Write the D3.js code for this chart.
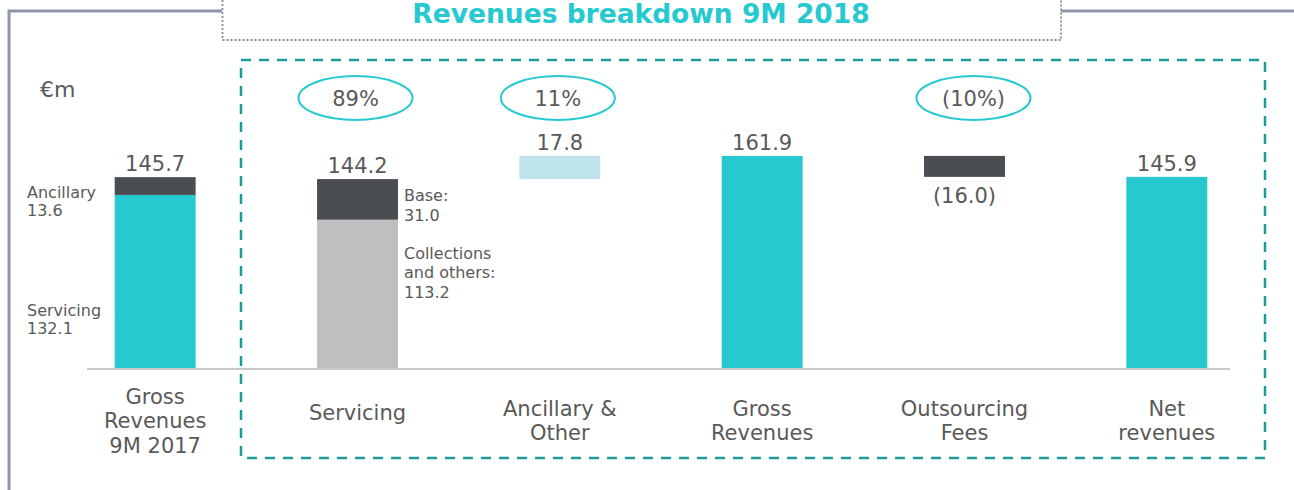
<!DOCTYPE html>
<html>
<head>
<meta charset="utf-8">
<script src="https://cdn.jsdelivr.net/npm/d3@7"></script>
<style>
  html, body { margin: 0; padding: 0; background: #ffffff; }
  svg { display: block; }
  text { font-family: "DejaVu Sans", Verdana, sans-serif; fill: #595959; }
</style>
</head>
<body>
<svg id="chart" width="1294" height="490"></svg>
<script>
// ---------- data ----------
const categories = [
  ["Gross", "Revenues", "9M 2017"],
  ["Servicing"],
  ["Ancillary &", "Other"],
  ["Gross", "Revenues"],
  ["Outsourcing", "Fees"],
  ["Net", "revenues"]
];
const categoryKeys = ["gross2017", "servicing", "ancillary", "gross", "outsourcing", "net"];
const totalLabels = ["145.7", "144.2", "17.8", "161.9", "(16.0)", "145.9"];

// stacked components
const gross2017Servicing = 132.1;
const gross2017Ancillary = 13.6;
const servicingCollections = 113.2;
const servicingBase = 31.0;
// waterfall steps
const ancillaryValue = 17.8;
const grossValue = 161.9;
const outsourcingValue = -16.0;
const netValue = 145.9;

const shareKeys = ["servicing", "ancillary", "outsourcing"];
const shareLabels = ["89%", "11%", "(10%)"];

const title = "Revenues breakdown 9M 2018";
const unitLabel = "€m";

// ---------- layout ----------
const svg = d3.select("#chart");
const W = 1294, H = 490;
const baseY = 368;

const x = d3.scaleBand().domain(categoryKeys).range([54, 1268]).paddingInner(0.6).paddingOuter(0.3);
const y = d3.scaleLinear().domain([0, 170]).range([baseY, baseY - 170 * 1.31]);

const C = {
  cyan: "#26c9d0",
  dark: "#4a4d52",
  grey: "#bfbfbf",
  light: "#bfe3ea",
  frame: "#8c96a8",
  dash: "#1e9a9b",
  axis: "#c8c8c8",
  text: "#595959"
};

// frame lines
svg.append("path")
  .attr("d", `M9,${H} V11 H222 M1061,11 H${W}`)
  .attr("fill", "none").attr("stroke", C.frame).attr("stroke-width", 3);

// title box
svg.append("rect")
  .attr("x", 222.5).attr("y", -5).attr("width", 838.5).attr("height", 45)
  .attr("fill", "#fff").attr("stroke", "#858a9c").attr("stroke-width", 1.8)
  .attr("stroke-dasharray", "2,2");
svg.append("text")
  .attr("x", 641).attr("y", 22.5).attr("text-anchor", "middle")
  .style("font-size", "26.5px").style("font-weight", "bold").style("fill", C.cyan)
  .text(title);

// dashed box
svg.append("rect")
  .attr("x", 241).attr("y", 60).attr("width", 1024).attr("height", 398)
  .attr("fill", "none").attr("stroke", C.dash).attr("stroke-width", 2.5)
  .attr("stroke-dasharray", "10,8");

// unit
svg.append("text").attr("x", 40).attr("y", 97).style("font-size", "22px").text(unitLabel);

// ---------- segments ----------
const segments = [
  { key: "gross2017", y0: 0, y1: gross2017Servicing, color: C.cyan },
  { key: "gross2017", y0: gross2017Servicing, y1: gross2017Servicing + gross2017Ancillary, color: C.dark },
  { key: "servicing", y0: 0, y1: servicingCollections, color: C.grey },
  { key: "servicing", y0: servicingCollections, y1: servicingCollections + servicingBase, color: C.dark },
  { key: "ancillary", y0: servicingCollections + servicingBase, y1: servicingCollections + servicingBase + ancillaryValue, color: C.light },
  { key: "gross", y0: 0, y1: grossValue, color: C.cyan },
  { key: "outsourcing", y0: grossValue + outsourcingValue, y1: grossValue, color: C.dark },
  { key: "net", y0: 0, y1: netValue, color: C.cyan }
];

svg.append("g").selectAll("rect").data(segments).join("rect")
  .attr("x", d => x(d.key))
  .attr("width", x.bandwidth())
  .attr("y", d => y(d.y1))
  .attr("height", d => y(d.y0) - y(d.y1))
  .attr("fill", d => d.color);

// axis baseline
svg.append("line")
  .attr("x1", 87).attr("x2", 1230).attr("y1", baseY + 1).attr("y2", baseY + 1)
  .attr("stroke", C.axis).attr("stroke-width", 2);

// ---------- total labels ----------
const tops = {
  gross2017: gross2017Servicing + gross2017Ancillary,
  servicing: servicingCollections + servicingBase,
  ancillary: servicingCollections + servicingBase + ancillaryValue,
  gross: grossValue,
  outsourcing: grossValue,
  net: netValue
};
svg.append("g").selectAll("text").data(categoryKeys).join("text")
  .attr("x", d => x(d) + x.bandwidth() / 2)
  .attr("y", d => d === "outsourcing" ? y(grossValue + outsourcingValue) + 26 : y(tops[d]) - 6)
  .attr("text-anchor", "middle")
  .style("font-size", "21px")
  .text((d, i) => totalLabels[i]);

// ---------- side labels ----------
function multiline(xp, y0, lines, lh, size, anchor) {
  const t = svg.append("text").attr("x", xp).attr("y", y0)
    .attr("text-anchor", anchor || "start").style("font-size", size + "px");
  lines.forEach((l, i) => t.append("tspan").attr("x", xp).attr("y", y0 + i * lh).text(l));
}
multiline(27, y(gross2017Servicing) + 3, ["Ancillary", gross2017Ancillary.toFixed(1)], 18, 16);
multiline(27, y(40), ["Servicing", gross2017Servicing.toFixed(1)], 18, 16);
const sx = x("servicing") + x.bandwidth() + 6;
multiline(sx, y(servicingCollections + servicingBase) + 22, ["Base:", servicingBase.toFixed(1)], 19.5, 16);
multiline(sx, y(servicingCollections) + 39, ["Collections", "and others:", servicingCollections.toFixed(1)], 19.5, 16);

// ---------- share ellipses ----------
const shares = svg.append("g").selectAll("g").data(shareKeys).join("g")
  .attr("transform", d => `translate(${x(d) + x.bandwidth() / 2 + (d === "outsourcing" ? 9 : -2)},98)`);
shares.append("ellipse").attr("rx", 57).attr("ry", 22)
  .attr("fill", "none").attr("stroke", C.cyan).attr("stroke-width", 2);
shares.append("text").attr("y", 8).attr("text-anchor", "middle")
  .style("font-size", "21px").text((d, i) => shareLabels[i]);

// ---------- category labels ----------
categories.forEach((lines, i) => {
  const n = lines.length;
  const cx = x(categoryKeys[i]) + x.bandwidth() / 2;
  const t = svg.append("text").attr("text-anchor", "middle").style("font-size", "21px");
  lines.forEach((l, j) => {
    const by = n === 1 ? 420 : 428 + (j - (n - 1) / 2) * 24.5;
    t.append("tspan").attr("x", cx).attr("y", by).text(l);
  });
});
</script>
</body>
</html>
